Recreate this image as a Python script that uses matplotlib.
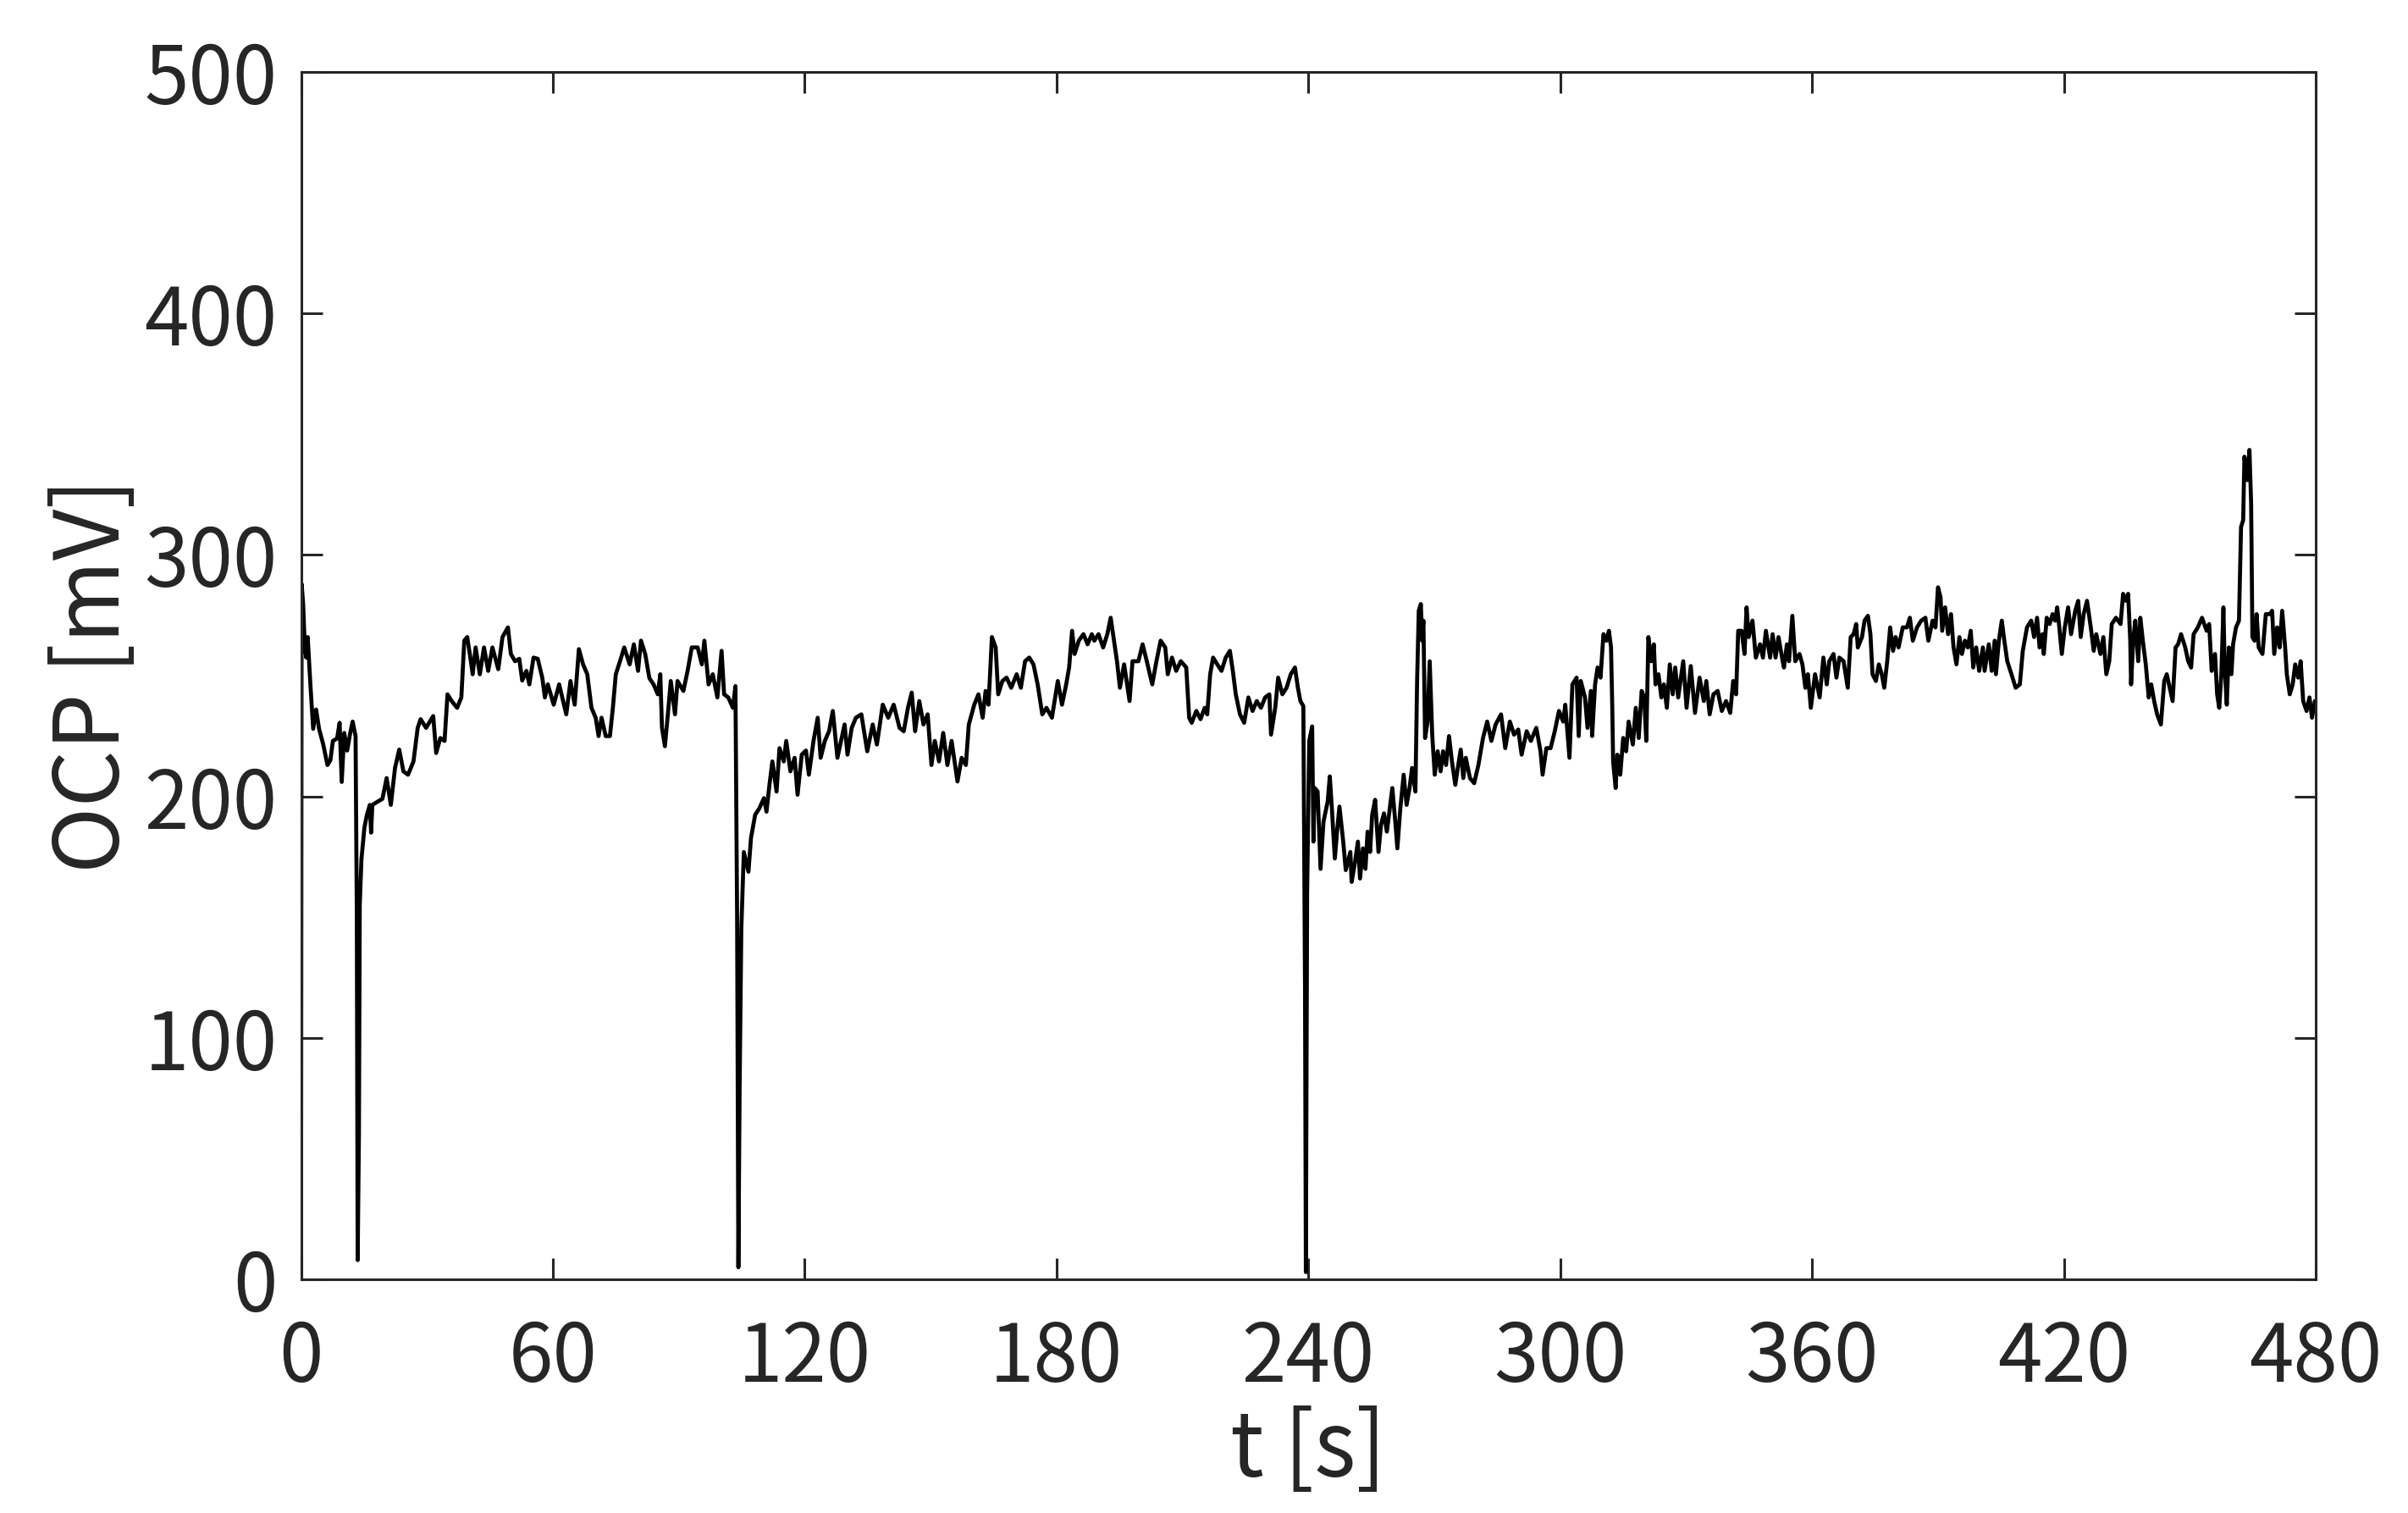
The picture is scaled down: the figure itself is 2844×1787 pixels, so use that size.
import matplotlib
matplotlib.use("Agg")
import matplotlib.pyplot as plt
import numpy as np

# ---- data (t in s, OCP in mV) ----
t_a = [0.0, 0.15, 0.5, 0.9, 1.25, 1.6, 2.25, 2.9, 3.6, 4.3, 5.3, 6.3, 7.0, 7.6, 8.6, 9.2, 9.7, 10.3, 11.0, 11.7,
       12.3, 13.0, 13.3, 13.5, 13.8, 14.0, 14.4, 15.1, 15.7, 16.4, 16.7, 17.0, 18.4, 19.4, 20.4, 21.4, 22.4, 23.4, 24.4, 25.5,
       26.8, 27.8, 28.5, 29.8, 31.5, 32.2, 33.2, 34.2, 34.9, 35.9, 37.2, 38.2, 38.9, 39.6, 40.3, 40.9, 41.6, 42.6, 43.6, 44.6,
       45.6, 47.0, 48.0, 49.3, 50.0, 51.0, 52.0, 52.7, 53.7, 54.4, 55.4, 56.4]
v_a = [2, 288, 280, 262, 257.5, 266, 246, 228, 236, 228, 221.5, 213, 215, 223, 224, 230.5, 206, 226.3, 219, 226,
       231, 225, 150, 8, 60, 155, 174, 187, 192.4, 196.5, 185, 196.5, 198, 199, 207.6, 196.5, 211.8, 219.4, 210.4, 209,
       214.5, 228.4, 232, 228.4, 233.3, 218, 224.2, 223, 242.3, 239.5, 236.7, 241, 264.5, 266, 258, 250.6, 261.7, 250.6, 261.7, 252,
       261.7, 252.7, 266, 270, 259, 256, 257, 248, 252, 246.4, 257.5, 257]

t_b = [57.5, 58.1, 58.8, 60.2, 61.5, 63.2, 64.2, 65.2, 66.2, 67.2, 68.2, 69.2, 70.2, 70.9, 71.6, 72.6, 73.6, 74.3, 75.0, 76.0,
       77.0, 78.3, 79.3, 80.3, 81.0, 82.0, 83.0, 84.0, 85.0, 85.6, 86.0, 86.7, 87.4, 88.1, 89.1, 89.7, 91.1, 92.1, 93.1, 94.5,
       95.5, 96.1, 97.1, 98.1, 99.2, 100.2, 100.8, 101.8, 102.9, 103.5, 103.9, 104.2, 104.5, 104.9, 105.5, 106.6, 107.2, 108.2, 109.2, 110.3,
       110.9, 111.6, 112.3, 113.3, 114.0, 115.0, 115.6, 116.6, 117.6, 118.3, 119.3, 120.3, 121.0]
v_b = [249, 241, 246.4, 238, 246.4, 234, 247.8, 238, 261, 254.7, 250.6, 236.7, 232.6, 225, 232.6, 225, 225, 236.7, 250.6, 256,
       261.7, 254.7, 263, 252, 264.5, 259, 249, 246.4, 242.3, 250.6, 228.4, 220.8, 234, 247.8, 234, 247.8, 243.7, 252, 261.7, 261.7,
       254.7, 264.5, 246.4, 250.6, 241, 260.3, 242.3, 241, 236.7, 245.7, 150, 5, 80, 145, 177, 168.8, 182.7, 192.4, 195.1, 199.3,
       193.7, 204.8, 214.5, 202, 220, 214.5, 223, 210.4, 216, 200.7, 217.3, 219, 209]

t_c = [122.1, 123.1, 123.8, 124.8, 125.8, 126.7, 127.8, 128.8, 129.5, 130.2, 131.2, 132.2, 133.5, 134.9, 136.2, 137.2, 138.6, 139.9, 141.2, 142.6,
       143.6, 144.6, 145.5, 146.3, 147.3, 148.3, 149.3, 150.2, 151.0, 152.0, 153.0, 154.0, 155.0, 156.4, 157.4, 158.4, 159.1, 160.4, 161.4, 162.4,
       163.1, 163.8, 164.6, 165.5, 166.1, 167.1, 168.1, 169.2, 170.5, 171.5, 172.5, 173.5, 174.5, 175.5, 176.6, 177.6, 178.9]
v_c = [223, 232.6, 216, 223, 227, 235.4, 216, 224.2, 229.8, 217.3, 228.4, 232.6, 234, 218.7, 229.8, 221.5, 238, 232.6, 238, 228.4,
       227, 236.7, 243, 227, 239.5, 229.8, 234, 213, 223, 214.5, 226.3, 213, 223, 206.2, 216, 213, 229.8, 238, 242.3, 232.6,
       243.7, 238, 266, 261.7, 242.3, 247.8, 249.2, 245, 250.6, 245, 256, 257.5, 254.7, 246.4, 234, 236.7, 232.6]

t_d = [180.3, 181.3, 182.3, 183.0, 183.7, 184.3, 185.3, 186.4, 187.4, 188.4, 189.0, 190.0, 191.1, 192.1, 192.9, 193.7, 194.4, 195.1, 196.1, 196.8,
       197.4, 198.1, 199.5, 200.5, 201.5, 202.8, 203.8, 204.8, 205.9, 206.5, 207.5, 208.5, 209.6, 210.9, 211.6, 212.2, 213.3, 214.3, 215.3, 215.9,
       216.6, 217.3, 218.3, 219.3, 220.3, 221.3, 222.0, 222.7, 223.7, 224.7, 225.7, 226.7, 227.7, 228.7, 229.7, 230.7, 231.1, 232.1, 232.8, 233.8,
       234.8, 235.8, 236.8, 237.5, 238.1, 238.8]
v_d = [247.8, 238, 246.4, 253.4, 268.6, 259, 264.5, 267.2, 263, 267.2, 264.5, 267.2, 261.7, 267.2, 274, 264.5, 256, 245, 254.7, 246.4,
       239.5, 256, 256, 263, 256, 246.4, 256, 264.5, 261.7, 250.6, 257.5, 252, 256, 253.4, 232.6, 230.5, 235.4, 232, 236.7, 234,
       250.6, 257.5, 254.7, 252, 257.5, 260.3, 252, 242.3, 234, 230.5, 241, 235.4, 239.5, 236.7, 241, 242.3, 225.6, 236.7, 249.2, 242.3,
       245, 250.6, 253.4, 245, 239.5, 237.4]

t_e = [239.2, 239.4, 239.7, 240.2, 240.9, 241.2, 241.5, 242.2, 242.9, 243.6, 244.6, 245.1, 245.6, 246.3, 246.9, 247.4, 248.3, 248.9, 250.0, 250.3,
       251.0, 251.8, 252.3, 253.0, 253.6, 254.1, 254.7, 255.2, 255.9, 256.7, 257.3, 258.0, 258.7, 259.4, 260.0, 260.7, 261.2, 261.9, 262.7, 263.4,
       264.1, 264.7, 265.5, 265.9, 266.3, 266.8, 267.1, 267.4, 267.8, 268.4, 268.9, 269.5, 270.1, 270.8, 271.5, 272.1, 272.8, 273.5, 274.2, 275.0,
       275.6, 276.3, 276.9, 277.5, 278.5, 279.5, 280.5, 281.6, 282.6, 283.6, 284.6, 285.9, 286.9, 288.0, 289.0, 290.0, 290.8, 292.0, 293.0, 294.3,
       295.3, 295.8, 296.7, 297.7, 298.7, 299.7, 300.7]
v_e = [120, 3, 160, 223, 229, 181.3, 203.5, 202, 170, 189.6, 197.9, 208.3, 195, 174.3, 186.8, 195.8, 181.3, 169.5, 177, 164.6,
       171.6, 181.3, 166, 178.5, 170, 185.4, 177, 192.4, 198.6, 177, 188.2, 193, 185.4, 195, 203.5, 189.6, 178.5, 195, 209, 196.5,
       203.5, 211.8, 202, 247.8, 277, 279.7, 264.5, 272.8, 224.2, 231, 256, 225.6, 209, 218.7, 210.4, 218.7, 213, 225, 214.5, 204.8,
       211.8, 219.4, 207.6, 216, 207.6, 205.5, 213, 224.2, 231, 223, 229.8, 234, 220, 231, 225.6, 227.7, 217.3, 227, 223, 228.4,
       218.7, 209, 220, 220, 227, 235.4, 231]

t_f = [301.2, 302.2, 302.9, 303.9, 304.4, 304.9, 305.9, 306.5, 307.3, 307.6, 308.3, 308.9, 309.6, 310.3, 311.0, 311.6, 312.1, 312.4, 312.6, 313.2,
       313.6, 314.3, 315.0, 315.7, 316.3, 317.3, 318.0, 318.7, 319.4, 320.0, 320.5, 321.0, 321.7, 322.3, 322.7, 323.4, 324.1, 324.7, 325.4, 326.1,
       326.8, 327.4, 328.1, 329.3, 330.1, 331.1, 332.1, 333.2, 334.2, 334.8, 335.6, 336.5, 337.5, 338.5, 339.5, 340.5, 341.2, 341.9, 342.4, 343.2,
       343.9, 344.4, 344.9, 345.8, 346.6, 347.6, 348.3, 349.0, 350.0, 350.6, 351.3, 352.0, 353.0, 353.3, 354.0, 354.5, 355.3, 356.0, 357.0, 357.7,
       358.4, 359.0, 359.7, 360.7]
v_f = [238, 216, 246.4, 249.2, 225, 247.8, 241, 228.4, 243.7, 225, 246.4, 253.4, 249.2, 267.2, 264.5, 268.6, 261.7, 236.7, 214.5, 203.5,
       217.3, 209, 224.2, 218.7, 231, 221.5, 236.7, 224.2, 243.7, 241, 223, 266, 256, 263, 246.4, 250.6, 241, 246.4, 236.7, 254.7,
       242.3, 253.4, 241, 256, 236.7, 254, 234.6, 249.2, 239.5, 247.8, 234, 242.3, 243.7, 235.4, 239.5, 234.6, 247.8, 242.3, 268.6, 268.6,
       259, 278.3, 266, 272.8, 257.5, 263, 257.5, 268.6, 257.5, 267.2, 257.5, 266, 256, 253.4, 263, 256, 274.8, 256, 259, 254.7,
       245, 250.6, 236.7, 250.6]

t_g = [361.8, 362.7, 363.5, 364.1, 365.1, 365.8, 366.5, 367.5, 368.5, 369.2, 369.9, 370.5, 370.9, 371.9, 372.5, 373.3, 373.9, 374.4, 375.2, 375.9,
       376.6, 377.2, 377.9, 378.6, 379.3, 379.9, 380.6, 381.6, 382.6, 383.3, 384.0, 385.0, 386.0, 387.0, 387.7, 388.7, 389.4, 390.0, 390.6, 391.0,
       391.7, 392.4, 393.1, 393.7, 394.4, 395.1, 395.7, 396.4, 397.1, 397.8, 398.4, 399.1, 399.8, 400.7, 401.1, 402.1, 402.8, 403.5, 403.8, 404.5,
       405.2, 405.8, 406.5, 407.5, 408.5, 409.5, 410.2, 411.2, 412.2, 412.9, 413.6, 414.2, 414.9, 415.2, 415.9, 416.6, 417.3, 417.9, 418.4, 418.9,
       419.5, 420.2]
v_g = [241, 257.5, 246.4, 256, 259, 249.2, 257.5, 256, 245, 266, 267.2, 271.4, 261.7, 266, 272.8, 274.8, 267.2, 250.6, 247.8, 254.7,
       250.6, 245, 256, 270, 260.3, 266, 261.7, 270, 270, 274, 264.5, 270, 272.8, 274, 264.5, 272.8, 270, 286.6, 282.5, 268.6,
       278.3, 267.2, 275.5, 261.7, 254.7, 266, 259, 264.5, 261.7, 268.6, 253.4, 261.7, 252, 261.7, 252, 263, 252, 264.5, 250.6, 264.5,
       272.8, 264.5, 256, 250.6, 245, 246.4, 260.3, 270, 272.8, 266, 274, 261.7, 267.2, 259, 274, 271.4, 275.5, 272.8, 278.3, 270,
       259, 270]

t_h = [421.0, 421.7, 422.7, 423.4, 424.0, 424.7, 425.5, 426.4, 427.1, 427.7, 428.7, 429.4, 430.1, 430.8, 431.4, 432.4, 433.5, 434.1, 434.8, 435.3,
       435.8, 436.0, 436.5, 437.0, 437.7, 438.2, 438.8, 439.5, 440.2, 440.8, 441.5, 442.2, 443.1, 443.9, 444.5, 445.2, 445.9, 446.6, 447.2, 447.9,
       448.9, 449.6, 450.3, 450.9, 451.9, 452.9, 454.0, 454.6, 455.2, 456.0, 456.5, 457.0, 457.5, 458.0, 458.3, 458.8, 459.3, 459.9, 460.3, 461.0,
       461.7, 462.2, 462.7, 463.0, 463.7, 464.2, 464.6, 464.9, 465.4, 465.9, 466.4, 467.3, 468.1, 469.1, 469.6, 470.1, 470.8, 471.4, 472.0, 472.7,
       473.1, 473.8, 474.5, 475.1, 475.8, 476.4, 477.0, 477.8, 478.5, 479.1, 479.8, 480.0]
v_h = [278.3, 267.2, 276.9, 281, 266, 275.5, 281, 270, 260.3, 267.2, 259, 266, 250.6, 256, 271.4, 274, 271.4, 283.9, 281, 283.9,
       264.5, 246.4, 264.5, 272.8, 256, 274, 264.5, 254.7, 241, 246.4, 239.5, 234, 229.8, 247.8, 250.6, 245, 239.5, 261.7, 263, 267.2,
       261.7, 256, 253.4, 267.2, 270, 274, 268.6, 271.4, 252, 259, 242.3, 236.7, 250.6, 278.3, 253.4, 238, 261.7, 250.6, 263, 270,
       272.8, 311.6, 314.4, 340.7, 331, 343.5, 321.3, 266, 264.5, 275.5, 261.7, 259, 275.5, 275.5, 276.9, 259, 270, 261.7, 276.9, 261.7,
       250.6, 242.3, 246.4, 254.7, 249.2, 256, 239.5, 235.4, 241, 232.6, 239.5, 237]

x_ticks = [0, 60, 120, 180, 240, 300, 360, 420, 480]
y_ticks = [0, 100, 200, 300, 400, 500]
x_label = "t [s]"
y_label = "OCP [mV]"

t = np.concatenate([t_a, t_b, t_c, t_d, t_e, t_f, t_g, t_h])
v = np.concatenate([v_a, v_b, v_c, v_d, v_e, v_f, v_g, v_h])

plt.rcParams['font.family'] = ['Noto Sans CJK JP', 'DejaVu Sans']
dark = '#262626'

fig = plt.figure(figsize=(14.22, 8.935), dpi=200)
ax = fig.add_axes([0.125, 0.1544, 0.8367, 0.798])
ax.plot(t, v, color='black', linewidth=1.7)

ax.set_xlim(0, 480)
ax.set_ylim(0, 500)
ax.set_xticks(x_ticks)
ax.set_yticks(y_ticks)
ax.tick_params(direction='in', length=9, width=1.1, colors=dark, labelsize=34,
               top=True, right=True, pad=10)
ax.tick_params(axis='x', pad=16)
for s in ax.spines.values():
    s.set_color(dark)
    s.set_linewidth(1.1)

ax.set_xlabel(x_label, fontsize=38, color=dark)
ax.set_ylabel(y_label, fontsize=38, color=dark)
ax.xaxis.set_label_coords(0.5, -0.104)
ax.yaxis.set_label_coords(-0.080, 0.5)

fig.savefig('out.png', dpi=200, facecolor='white')
